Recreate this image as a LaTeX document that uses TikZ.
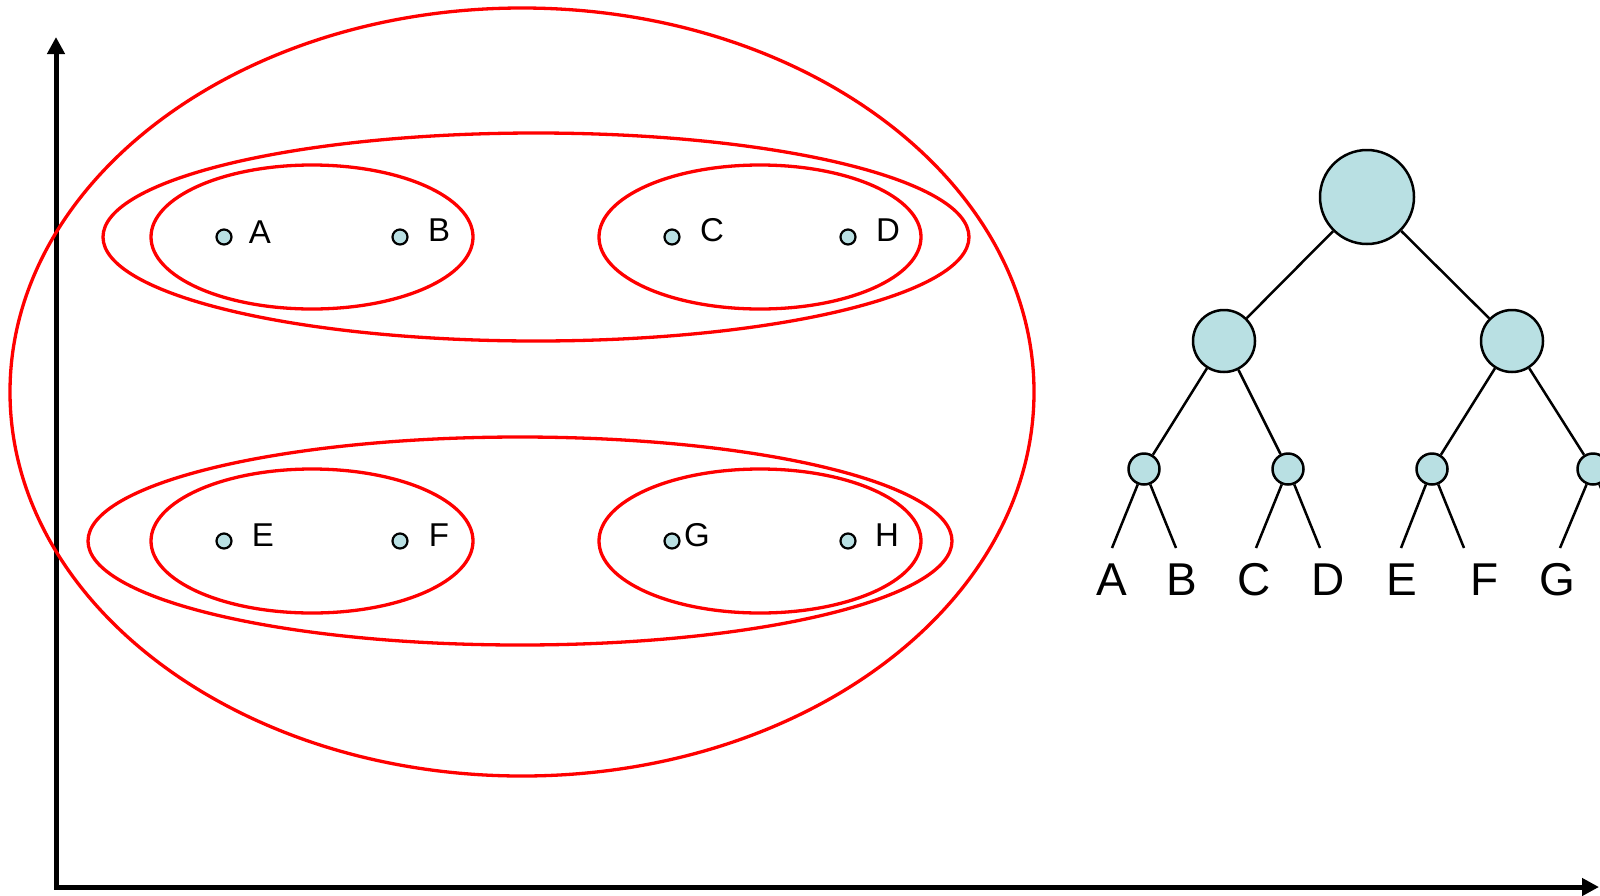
\documentclass[tikz,border=0pt]{standalone}
\usepackage{fontspec}
\setmainfont{Liberation Sans}
\usetikzlibrary{arrows.meta}

\definecolor{dotfill}{RGB}{185,224,227}

\begin{document}
\begin{tikzpicture}[x=1pt,y=-1pt,
	cluster/.style={draw=red, line width=3.3pt},
	pt/.style={circle, draw, line width=2.2pt, fill=dotfill, inner sep=0pt, minimum size=15pt},
	ptlabel/.style={inner sep=0pt, font=\fontsize{33}{40}\selectfont},
	tnode/.style={circle, draw, line width=2.5pt, fill=dotfill, inner sep=0pt},
	leaflabel/.style={inner sep=0pt, font=\fontsize{46}{55}\selectfont},
	edge/.style={line width=2.5pt}]
	% 画布大小
	\useasboundingbox (0,0) rectangle (1600,895);
	\clip (0,0) rectangle (1600,895);

	% 坐标轴
	\coordinate (ytop) at (56,37);
	\coordinate (origin) at (56,887);
	\coordinate (xend) at (1599,887);
	\draw[line width=5pt, {Triangle[length=17pt,width=17pt]}-{Triangle[length=17pt,width=17pt]}] (ytop) -- (origin) -- (xend);

	% 聚类的椭圆
	\draw[cluster] (522,392) ellipse (512 and 384);
	\draw[cluster] (536,237) ellipse (433 and 104);
	\draw[cluster] (520,541) ellipse (432 and 104);
	\draw[cluster] (312,237) ellipse (161 and 72);
	\draw[cluster] (760,237) ellipse (161 and 72);
	\draw[cluster] (312,541) ellipse (161 and 72);
	\draw[cluster] (760,541) ellipse (161 and 72);

	% 数据点及标注
	\node[pt] (pA) at (224,237) {};
	\node[pt] (pB) at (400,237) {};
	\node[pt] (pC) at (672,237) {};
	\node[pt] (pD) at (848,237) {};
	\node[pt] (pE) at (224,541) {};
	\node[pt] (pF) at (400,541) {};
	\node[pt] (pG) at (672,541) {};
	\node[pt] (pH) at (848,541) {};
	\node[ptlabel] at (260,232) {A};
	\node[ptlabel] at (439,230) {B};
	\node[ptlabel] at (712,230) {C};
	\node[ptlabel] at (888,230) {D};
	\node[ptlabel] at (263,535) {E};
	\node[ptlabel] at (439,535) {F};
	\node[ptlabel] at (697,535) {G};
	\node[ptlabel] at (887,535) {H};

	% 树状图的结点
	\node[tnode, minimum size=94pt] (root) at (1367,197) {};
	\node[tnode, minimum size=62pt] (l) at (1224,341) {};
	\node[tnode, minimum size=62pt] (r) at (1512,341) {};
	\node[tnode, minimum size=31pt] (ll) at (1144,469) {};
	\node[tnode, minimum size=31pt] (lr) at (1288,469) {};
	\node[tnode, minimum size=31pt] (rl) at (1432,469) {};
	\node[tnode, minimum size=31pt] (rr) at (1593,469) {};

	% 叶子的端点
	\coordinate (leafA) at (1112,548);
	\coordinate (leafB) at (1176,548);
	\coordinate (leafC) at (1256,548);
	\coordinate (leafD) at (1320,548);
	\coordinate (leafE) at (1401,548);
	\coordinate (leafF) at (1464,548);
	\coordinate (leafG) at (1560,548);
	\coordinate (leafH) at (1626,548);

	% 树枝
	\draw[edge] (root) -- (l);
	\draw[edge] (root) -- (r);
	\draw[edge] (l) -- (ll);
	\draw[edge] (l) -- (lr);
	\draw[edge] (r) -- (rl);
	\draw[edge] (r) -- (rr);
	\draw[edge] (ll) -- (leafA);
	\draw[edge] (ll) -- (leafB);
	\draw[edge] (lr) -- (leafC);
	\draw[edge] (lr) -- (leafD);
	\draw[edge] (rl) -- (leafE);
	\draw[edge] (rl) -- (leafF);
	\draw[edge] (rr) -- (leafG);
	\draw[edge] (rr) -- (leafH);

	% 叶子的标注
	\node[leaflabel] at (1112,580) {A};
	\node[leaflabel] at (1182,580) {B};
	\node[leaflabel] at (1254,580) {C};
	\node[leaflabel] at (1328,580) {D};
	\node[leaflabel] at (1402,580) {E};
	\node[leaflabel] at (1485,580) {F};
	\node[leaflabel] at (1557,580) {G};
\end{tikzpicture}
\end{document}
